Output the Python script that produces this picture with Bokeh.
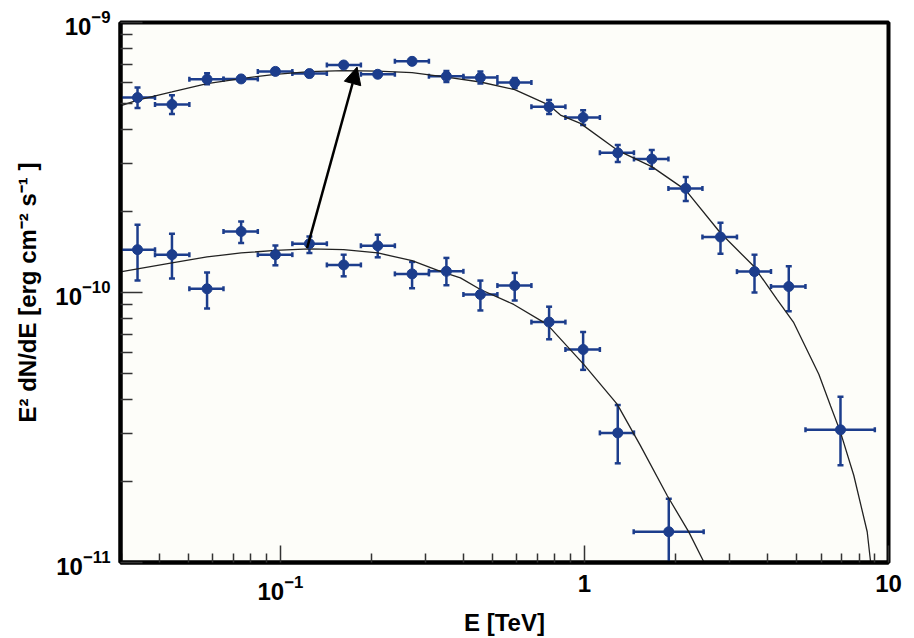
from bokeh.plotting import figure
from bokeh.models import (ColumnDataSource, Whisker, TeeHead, Arrow, NormalHead,
                          FixedTicker, LogTickFormatter)
from bokeh.embed import file_html
from bokeh.resources import INLINE

# ---------------- data ----------------
# upper spectrum
up_E = [0.0339, 0.0440, 0.0574, 0.0743, 0.0963, 0.1246, 0.1615, 0.2090, 0.2711, 0.3516,
        0.4548, 0.5898, 0.7652, 0.9901, 1.287, 1.665, 2.154, 2.802, 3.625, 4.699, 6.952]
up_Elo = [0.0298, 0.0387, 0.0502, 0.0650, 0.0843, 0.1095, 0.1422, 0.1840, 0.2380, 0.3080,
          0.3999, 0.5173, 0.6693, 0.8659, 1.124, 1.455, 1.889, 2.444, 3.174, 4.107, 5.333]
up_Ehi = [0.0387, 0.0502, 0.0650, 0.0843, 0.1095, 0.1422, 0.1840, 0.2380, 0.3080, 0.3999,
          0.5173, 0.6693, 0.8659, 1.124, 1.455, 1.889, 2.444, 3.174, 4.107, 5.333, 9.016]
up_F = [5.27e-10, 4.97e-10, 6.16e-10, 6.18e-10, 6.59e-10, 6.47e-10, 6.96e-10, 6.43e-10,
        7.18e-10, 6.32e-10, 6.25e-10, 5.99e-10, 4.87e-10, 4.45e-10, 3.29e-10, 3.12e-10,
        2.43e-10, 1.605e-10, 1.195e-10, 1.052e-10, 3.10e-11]
up_Fhi = [5.75e-10, 5.38e-10, 6.48e-10, 6.33e-10, 6.76e-10, 6.65e-10, 7.12e-10, 6.59e-10,
          7.33e-10, 6.61e-10, 6.59e-10, 6.23e-10, 5.16e-10, 4.73e-10, 3.52e-10, 3.37e-10,
          2.68e-10, 1.813e-10, 1.381e-10, 1.250e-10, 4.11e-11]
up_Flo = [4.82e-10, 4.58e-10, 5.90e-10, 6.04e-10, 6.43e-10, 6.28e-10, 6.79e-10, 6.27e-10,
          7.00e-10, 6.02e-10, 5.94e-10, 5.72e-10, 4.58e-10, 4.17e-10, 3.04e-10, 2.87e-10,
          2.18e-10, 1.393e-10, 1.000e-10, 8.53e-11, 2.29e-11]

# lower spectrum
lo_E = [0.0339, 0.0440, 0.0574, 0.0743, 0.0963, 0.1246, 0.1615, 0.2090, 0.2711, 0.3516,
        0.4548, 0.5898, 0.7652, 0.9901, 1.287, 1.894]
lo_Elo = [0.0298, 0.0387, 0.0502, 0.0650, 0.0843, 0.1095, 0.1422, 0.1840, 0.2380, 0.3080,
          0.3999, 0.5173, 0.6693, 0.8659, 1.124, 1.452]
lo_Ehi = [0.0387, 0.0502, 0.0650, 0.0843, 0.1095, 0.1422, 0.1840, 0.2380, 0.3080, 0.3999,
          0.5173, 0.6693, 0.8659, 1.124, 1.455, 2.467]
lo_F = [1.441e-10, 1.381e-10, 1.032e-10, 1.683e-10, 1.381e-10, 1.516e-10, 1.265e-10, 1.490e-10,
        1.172e-10, 1.198e-10, 9.83e-11, 1.061e-10, 7.77e-11, 6.15e-11, 3.02e-11, 1.30e-11]
lo_Fhi = [1.782e-10, 1.651e-10, 1.185e-10, 1.833e-10, 1.494e-10, 1.613e-10, 1.381e-10, 1.637e-10,
          1.298e-10, 1.343e-10, 1.107e-10, 1.182e-10, 8.86e-11, 7.14e-11, 3.83e-11, 1.722e-11]
lo_Flo = [1.107e-10, 1.126e-10, 8.73e-11, 1.526e-10, 1.261e-10, 1.401e-10, 1.148e-10, 1.350e-10,
          1.037e-10, 1.064e-10, 8.58e-11, 9.34e-11, 6.71e-11, 5.17e-11, 2.33e-11, 1.00e-11]

# model curves
cu_E = [0.02977, 0.0339, 0.0440, 0.0574, 0.0743, 0.0963, 0.1246, 0.1615, 0.2090, 0.2711,
        0.3516, 0.4548, 0.5898, 0.7652, 0.834, 0.970, 1.281, 1.670, 2.149, 2.802, 3.606,
        4.304, 4.88, 5.90, 6.45, 6.95, 7.69, 8.51, 8.73, 8.79]
cu_F = [4.91e-10, 5.16e-10, 5.53e-10, 5.94e-10, 6.20e-10, 6.43e-10, 6.58e-10, 6.63e-10,
        6.61e-10, 6.52e-10, 6.28e-10, 6.02e-10, 5.64e-10, 4.94e-10, 4.54e-10, 4.23e-10,
        3.37e-10, 2.92e-10, 2.40e-10, 1.661e-10, 1.250e-10, 9.42e-11, 7.73e-11, 4.98e-11,
        3.80e-11, 3.04e-11, 2.10e-11, 1.30e-11, 1.006e-11, 9.1e-12]
cl_E = [0.02977, 0.0339, 0.0440, 0.0574, 0.0743, 0.0963, 0.1246, 0.1615, 0.2090, 0.2711,
        0.336, 0.391, 0.4548, 0.5855, 0.7540, 0.9947, 1.281, 1.528, 1.871, 2.203, 2.468, 2.558]
cl_F = [1.192e-10, 1.223e-10, 1.287e-10, 1.354e-10, 1.401e-10, 1.432e-10, 1.450e-10, 1.441e-10,
        1.401e-10, 1.313e-10, 1.198e-10, 1.133e-10, 1.026e-10, 9.03e-11, 7.62e-11, 5.42e-11,
        3.86e-11, 2.71e-11, 1.771e-11, 1.298e-11, 1.006e-11, 9.1e-12]

# arrow (from lower spectrum to upper spectrum)
arrow_start = (0.1224, 1.46e-10)
arrow_end = (0.1788, 6.84e-10)

# axes
X_MIN, X_MAX = 0.0298, 10.0
Y_MIN, Y_MAX = 1e-11, 1e-9
x_ticks = [0.1, 1.0, 10.0]
x_plain_labels = {1.0: "1", 10.0: "10"}     # 0.1 stays as 10^-1
y_ticks = [1e-11, 1e-10, 1e-9]
x_label = "E [TeV]"
y_label = "E\u00b2 dN/dE [erg cm\u207b\u00b2 s\u207b\u00b9 ]"

# ---------------- style ----------------
BLUE = "#1c3d8c"
FONT = "Liberation Sans"

p = figure(width=914, height=638, x_axis_type="log", y_axis_type="log",
           x_range=(X_MIN, X_MAX), y_range=(Y_MIN, Y_MAX),
           output_backend="svg", toolbar_location=None,
           min_border_left=120, min_border_right=26, min_border_top=22, min_border_bottom=74)

p.background_fill_color = "#fdfdf9"
p.border_fill_color = "white"
p.outline_line_color = "black"
p.outline_line_width = 4
p.outline_line_alpha = 1.0
p.xgrid.visible = False
p.ygrid.visible = False

x_minor = [k * 10.0 ** e for e in (-2, -1, 0) for k in range(2, 10)]
y_minor = [k * 10.0 ** e for e in (-11, -10) for k in range(2, 10)]
p.xaxis.ticker = FixedTicker(ticks=x_ticks, minor_ticks=x_minor)
p.yaxis.ticker = FixedTicker(ticks=y_ticks, minor_ticks=y_minor)
p.xaxis.formatter = LogTickFormatter()
p.yaxis.formatter = LogTickFormatter()
p.xaxis.major_label_overrides = x_plain_labels

for ax in (p.xaxis[0], p.yaxis[0]):
    ax.axis_line_width = 4
    ax.axis_line_color = "black"
    ax.major_tick_out = 0
    ax.minor_tick_out = 0
    ax.major_tick_line_color = "#333333"
    ax.minor_tick_line_color = "#333333"
    ax.major_tick_line_width = 1.5
    ax.minor_tick_line_width = 1.5
    ax.major_label_text_font = FONT
    ax.major_label_text_font_style = "bold"
    ax.major_label_text_font_size = "24px"
    ax.major_label_text_color = "black"
    ax.axis_label_text_font = FONT
    ax.axis_label_text_font_style = "bold"
    ax.axis_label_text_font_size = "24px"
    ax.axis_label_text_color = "black"

p.xaxis.major_tick_in = 17
p.xaxis.minor_tick_in = 9
p.yaxis.major_tick_in = 22
p.yaxis.minor_tick_in = 12
p.xaxis.major_label_standoff = 12
p.yaxis.major_label_standoff = 10
p.xaxis.axis_label_standoff = 6
p.yaxis.axis_label_standoff = 11
p.xaxis.axis_label = x_label
p.yaxis.axis_label = y_label

# ---------------- marks ----------------
p.line(cu_E, cu_F, line_color="#222222", line_width=1.3)
p.line(cl_E, cl_F, line_color="#222222", line_width=1.3)

for E, Elo, Ehi, F, Flo, Fhi in ((up_E, up_Elo, up_Ehi, up_F, up_Flo, up_Fhi),
                                 (lo_E, lo_Elo, lo_Ehi, lo_F, lo_Flo, lo_Fhi)):
    src = ColumnDataSource(dict(E=E, Elo=Elo, Ehi=Ehi, F=F, Flo=Flo, Fhi=Fhi))
    wx = Whisker(source=src, base="F", lower="Elo", upper="Ehi", dimension="width",
                 line_color=BLUE, line_width=2.5,
                 lower_head=TeeHead(size=5, line_color=BLUE, line_width=2.5),
                 upper_head=TeeHead(size=5, line_color=BLUE, line_width=2.5))
    wy = Whisker(source=src, base="E", lower="Flo", upper="Fhi", dimension="height",
                 line_color=BLUE, line_width=2.5,
                 lower_head=TeeHead(size=6, line_color=BLUE, line_width=2.5),
                 upper_head=TeeHead(size=6, line_color=BLUE, line_width=2.5))
    p.add_layout(wx)
    p.add_layout(wy)
    p.scatter("E", "F", source=src, size=10, fill_color=BLUE, line_color=BLUE)

p.add_layout(Arrow(x_start=arrow_start[0], y_start=arrow_start[1],
                   x_end=arrow_end[0], y_end=arrow_end[1],
                   line_color="black", line_width=2.5,
                   end=NormalHead(size=17, fill_color="black", line_color="black")))

open("out.html", "w").write(file_html(p, INLINE))
